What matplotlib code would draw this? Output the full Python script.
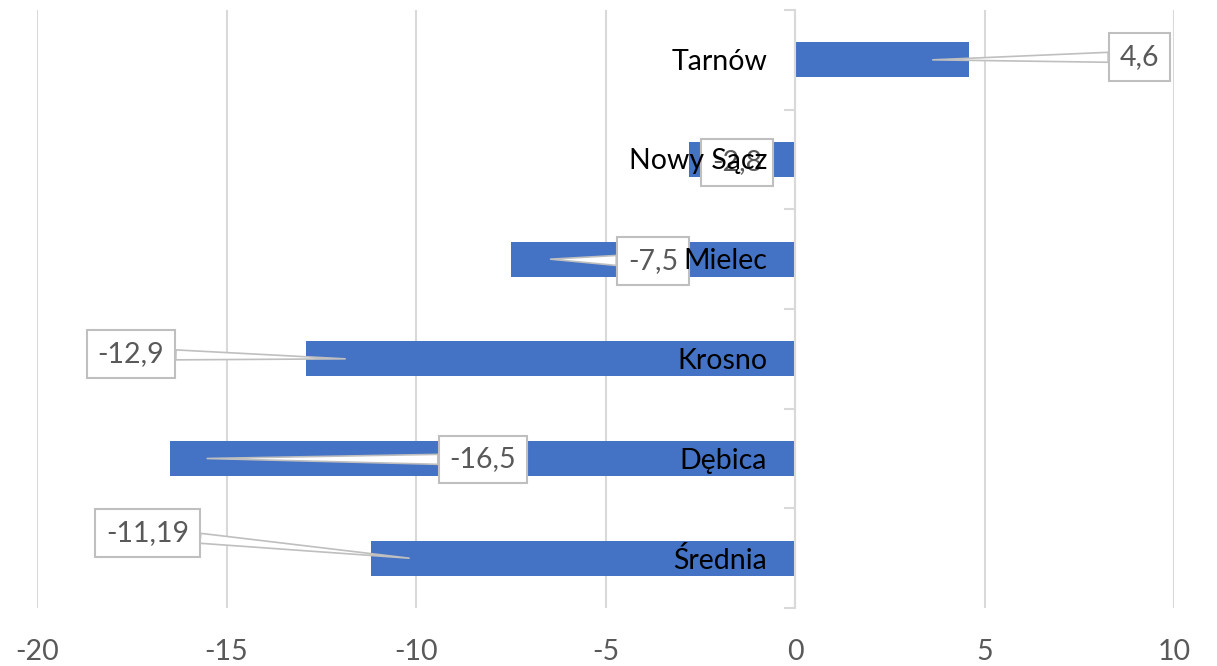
import matplotlib.pyplot as plt

# Data
categories = ["Tarnów", "Nowy Sącz", "Mielec", "Krosno", "Dębica", "Średnia"]
values = [4.6, -2.8, -7.5, -12.9, -16.5, -11.19]
value_labels = ["4,6", "-2,8", "-7,5", "-12,9", "-16,5", "-11,19"]
x_ticks = [-20, -15, -10, -5, 0, 5, 10]

# where Excel put the callout boxes (data coords) and where the leaders point
label_pos = [(9.09, -0.03), (-1.53, 1.03), (-3.75, 2.02), (-17.52, 2.95), (-8.24, 4.01), (-17.09, 4.75)]
leader_frac = [0.79, None, 0.86, 0.92, 0.94, 0.91]

plt.rcParams["font.family"] = ["Lato", "DejaVu Sans"]

fig = plt.figure(figsize=(12.17, 6.66), dpi=100)
ax = fig.add_axes([37 / 1217, 1 - 608 / 666, (1174 - 37) / 1217, (608 - 10) / 666])

ypos = list(range(len(categories)))
ax.barh(ypos, values, height=0.35, color="#4472C4", zorder=2)

ax.set_xlim(-20, 10)
ax.set_ylim(len(categories) - 0.5, -0.5)

# gridlines
ax.set_xticks(x_ticks)
ax.set_xticklabels([str(t) for t in x_ticks])
ax.tick_params(axis="x", length=0, pad=22, labelsize=20.5, labelcolor="#595959")
ax.grid(axis="x", color="#d9d9d9", linewidth=1.5, zorder=0)

for s in ["top", "right", "bottom"]:
    ax.spines[s].set_visible(False)
ax.spines["left"].set_position(("data", 0))
ax.spines["left"].set_color("#d9d9d9")
ax.spines["left"].set_linewidth(1.5)
ax.set_yticks([i - 0.5 for i in range(len(categories) + 1)])
ax.set_yticklabels([])
ax.tick_params(axis="y", length=8, width=1.5, color="#d9d9d9", direction="out")

# data label callouts
for i, (v, lab) in enumerate(zip(values, value_labels)):
    bx, by = label_pos[i]
    box = dict(boxstyle="square,pad=0.38", fc="white", ec="#bfbfbf", lw=1.5)
    if leader_frac[i] is None:
        ax.annotate(lab, xy=(bx, by), ha="center", va="center", fontsize=20.5,
                    color="#595959", bbox=box, zorder=4)
    else:
        ax.annotate(lab, xy=(v * leader_frac[i], i), xytext=(bx, by),
                    ha="center", va="center", fontsize=20.5, color="#595959",
                    bbox=box, zorder=4,
                    arrowprops=dict(arrowstyle="wedge,tail_width=0.35,shrink_factor=0.5",
                                    fc="white", ec="#bfbfbf", lw=1.2, shrinkA=0, shrinkB=0))

# category labels sit just left of the zero axis
for i, c in enumerate(categories):
    ax.annotate(c, xy=(0, i), xytext=(-28, -2), textcoords="offset pixels",
                ha="right", va="center", fontsize=20.5, color="black", zorder=5)

fig.savefig("out.png", dpi=100)
